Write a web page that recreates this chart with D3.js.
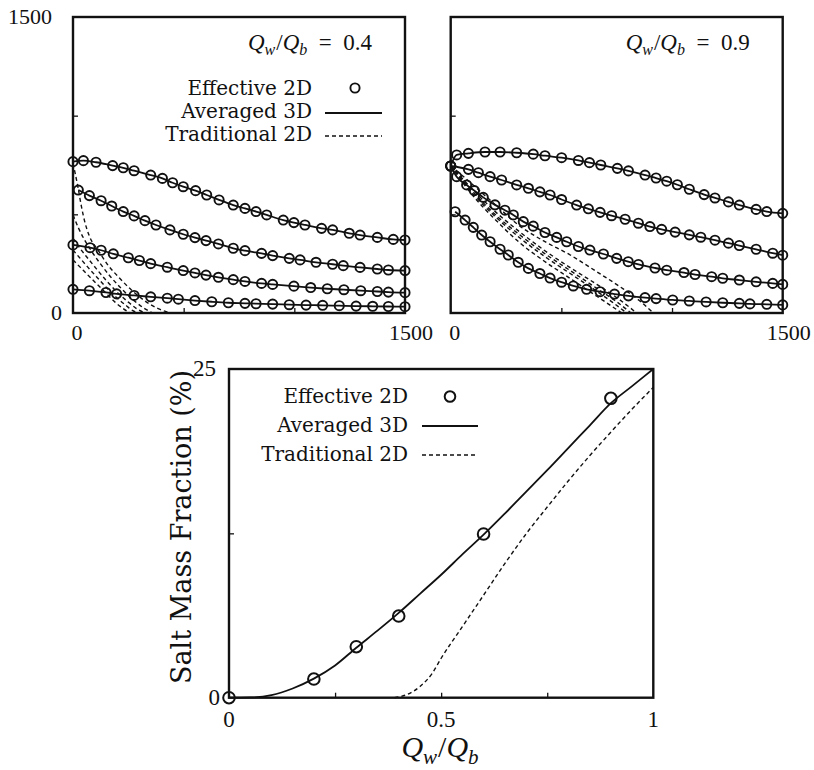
<!DOCTYPE html>
<html>
<head>
<meta charset="utf-8">
<script src="https://cdn.jsdelivr.net/npm/d3@7"></script>
<style>
  body { margin: 0; background: #fff; }
  text { fill: #111; }
</style>
</head>
<body>
<div id="chart"></div>
<script>
const width = 814
const height = 770

// ---- data ----
// left panel, Qw/Qb = 0.4
const eff04_1 = [[0,767],[47,772],[104,764],[179,747],[227,736],[276,721],[351,699],[404,682],[450,660],[498,640],[554,620],[604,598],[660,573],[724,547],[777,530],[827,514],[875,497],[950,471],[998,458],[1048,446],[1123,429],[1173,421],[1248,404],[1297,395],[1375,383],[1447,373],[1500,370]]
const eff04_2 = [[24,623],[74,595],[127,569],[175,542],[227,514],[276,492],[325,468],[375,446],[438,421],[498,399],[551,382],[601,367],[657,350],[724,328],[777,316],[852,302],[902,291],[977,277],[1026,269],[1098,257],[1173,247],[1221,240],[1297,231],[1375,223],[1425,218],[1500,215]]
const eff04_3 = [[0,345],[77,331],[127,318],[182,300],[250,280],[300,266],[351,250],[426,232],[498,215],[551,203],[601,192],[657,181],[724,169],[777,160],[852,150],[902,145],[998,136],[1074,129],[1149,123],[1224,118],[1300,113],[1375,109],[1425,106],[1500,103]]
const eff04_4 = [[0,120],[74,113],[149,104],[197,97],[276,89],[351,82],[426,75],[476,70],[551,63],[627,57],[702,52],[777,49],[827,47],[902,45],[977,42],[1053,40],[1128,39],[1203,37],[1279,35],[1354,34],[1425,33],[1500,32]]
const trad04_1 = [[0,758],[22,640],[38,540],[53,463],[75,387],[113,319],[158,243],[211,176],[264,117],[324,62],[385,22],[440,0]]
const trad04_2 = [[0,497],[25,430],[50,375],[80,320],[120,255],[165,190],[215,128],[270,68],[320,25],[360,0]]
const trad04_3 = [[0,378],[30,330],[65,280],[105,225],[150,165],[200,105],[250,55],[290,20],[325,0]]
const trad04_4 = [[0,319],[30,280],[65,235],[105,185],[150,130],[195,80],[240,38],[270,12],[300,0]]
const trad04_5 = [[0,269],[30,235],[65,195],[105,150],[150,100],[190,55],[230,20],[258,0]]

// right panel, Qw/Qb = 0.9
const eff09_1 = [[0,745],[27,801],[80,809],[155,816],[223,816],[298,812],[373,805],[426,797],[501,787],[577,773],[627,762],[678,750],[753,733],[803,720],[878,699],[928,684],[976,668],[1024,650],[1078,627],[1145,600],[1194,583],[1255,563],[1304,547],[1380,525],[1428,514],[1500,505]]
const eff09_2 = [[0,745],[80,728],[125,711],[178,691],[230,674],[298,649],[351,632],[403,614],[449,598],[501,575],[569,547],[622,528],[675,510],[727,493],[788,475],[848,455],[900,438],[953,424],[1014,410],[1078,396],[1130,384],[1194,369],[1255,354],[1304,342],[1380,323],[1455,303],[1500,293]]
const eff09_3 = [[0,745],[27,691],[72,649],[107,620],[147,586],[200,548],[245,521],[283,497],[328,463],[373,440],[426,408],[479,383],[524,361],[577,337],[629,319],[690,299],[750,277],[802,260],[848,246],[923,228],[976,217],[1054,205],[1104,195],[1179,184],[1229,176],[1304,167],[1380,158],[1455,150],[1500,145]]
const eff09_4 = [[20,513],[65,471],[102,434],[140,395],[178,361],[223,323],[260,294],[305,257],[351,226],[403,200],[449,177],[501,156],[554,137],[614,120],[675,108],[740,96],[803,87],[878,78],[928,73],[1003,66],[1078,61],[1154,56],[1229,52],[1304,49],[1352,46],[1428,44],[1500,41]]
const trad09_1 = [[0,747],[100,650],[200,550],[313,440],[420,365],[540,294],[660,209],[765,133],[850,65],[916,0]]
const trad09_2 = [[0,747],[100,625],[200,515],[313,410],[420,320],[540,230],[660,145],[760,70],[840,0]]
const trad09_3 = [[0,747],[100,615],[200,500],[313,395],[420,305],[540,215],[660,125],[740,65],[815,0]]
const trad09_4 = [[0,747],[100,605],[200,490],[313,380],[420,290],[540,200],[660,110],[730,55],[795,0]]
const trad09_5 = [[0,747],[100,595],[200,475],[313,355],[420,265],[540,175],[660,85],[720,40],[773,0]]

// bottom panel: salt mass fraction (%) vs Qw/Qb
const ratio = [0, 0.2, 0.3, 0.4, 0.6, 0.9]
const effective2D = [0, 1.42, 3.88, 6.21, 12.45, 22.77]
const averaged3D = [[0,0],[0.05,0.02],[0.1,0.2],[0.15,0.7],[0.2,1.45],[0.25,2.45],[0.3,3.8],[0.35,5.1],[0.4,6.45],[0.45,7.9],[0.5,9.35],[0.55,10.9],[0.6,12.4],[0.65,14.0],[0.7,15.65],[0.75,17.3],[0.8,19.0],[0.85,20.7],[0.9,22.4],[0.95,23.7],[1,25]]
const traditional2D = [[0.39,0],[0.42,0.25],[0.45,0.85],[0.48,1.9],[0.5,3.0],[0.55,5.4],[0.6,7.8],[0.65,10.2],[0.7,12.45],[0.75,14.5],[0.8,16.5],[0.85,18.4],[0.9,20.2],[0.95,21.95],[1,23.6]]

const legendLabels = ["Effective 2D", "Averaged 3D", "Traditional 2D"]

const numFont = "'Liberation Serif', 'Times New Roman', serif"
const wordFont = "'DejaVu Serif', serif"
const ink = "#111"

const svg = d3.select("#chart").append("svg").attr("width", width).attr("height", height)
svg.append("rect").attr("width", width).attr("height", height).attr("fill", "#fff")

const line = (x, y) => d3.line().x(d => x(d[0])).y(d => y(d[1])).curve(d3.curveMonotoneX)

function mathLabel(g, x, y, size, suffix, anchor) {
    const t = g.append("text").attr("x", x).attr("y", y)
        .attr("font-family", numFont).attr("font-size", size).attr("text-anchor", anchor || "start")
    const sub = Math.round(size * 0.7)
    const shift = size * 0.22
    t.append("tspan").attr("font-style", "italic").text("Q")
    t.append("tspan").attr("font-style", "italic").attr("font-size", sub).attr("dy", shift).text("w")
    t.append("tspan").attr("dy", -shift).attr("dx", 1).text("/")
    t.append("tspan").attr("font-style", "italic").text("Q")
    t.append("tspan").attr("font-style", "italic").attr("font-size", sub).attr("dy", shift).text("b")
    if (suffix) t.append("tspan").attr("dy", -shift).attr("xml:space", "preserve").text(suffix)
}

function topPanel(left, effs, trads, label, withLegend, withYLabels) {
    const x = d3.scaleLinear().domain([0, 1500]).range([left, left + 332])
    const y = d3.scaleLinear().domain([0, 1500]).range([313, 17])
    const g = svg.append("g")

    g.append("g").attr("transform", `translate(0, ${y(0)})`)
        .call(d3.axisBottom(x).tickValues([500, 1000]).tickSize(-5).tickFormat(""))
        .call(a => a.select(".domain").remove())
        .selectAll("line").attr("stroke", ink).attr("stroke-width", 1.3)
    g.append("g").attr("transform", `translate(${x(0)}, 0)`)
        .call(d3.axisLeft(y).tickValues([500, 1000]).tickSize(-5).tickFormat(""))
        .call(a => a.select(".domain").remove())
        .selectAll("line").attr("stroke", ink).attr("stroke-width", 1.3)

    trads.forEach(s => {
        g.append("path").datum(s).attr("d", line(x, y)).attr("fill", "none")
            .attr("stroke", ink).attr("stroke-width", 1.4).attr("stroke-dasharray", "4,3")
    })
    effs.forEach(s => {
        g.append("path").datum(s).attr("d", line(x, y)).attr("fill", "none")
            .attr("stroke", ink).attr("stroke-width", 1.8)
        g.selectAll(null).data(s).enter().append("circle")
            .attr("cx", d => x(d[0])).attr("cy", d => y(d[1])).attr("r", 4.6)
            .attr("fill", "none").attr("stroke", ink).attr("stroke-width", 1.9)
    })

    g.append("rect").attr("x", x(0)).attr("y", y(1500))
        .attr("width", x(1500) - x(0)).attr("height", y(0) - y(1500))
        .attr("fill", "none").attr("stroke", ink).attr("stroke-width", 2.4)

    // end tick labels
    g.append("text").attr("x", x(0) + 4).attr("y", 340).attr("text-anchor", "middle")
        .attr("font-family", numFont).attr("font-size", 22).text("0")
    g.append("text").attr("x", x(1500) + 6).attr("y", 340).attr("text-anchor", "middle")
        .attr("font-family", numFont).attr("font-size", 22).text("1500")
    if (withYLabels) {
        g.append("text").attr("x", x(0) - 21).attr("y", y(1500) + 7).attr("text-anchor", "end")
            .attr("font-family", numFont).attr("font-size", 22).text("1500")
        g.append("text").attr("x", x(0) - 11).attr("y", y(0) + 7).attr("text-anchor", "end")
            .attr("font-family", numFont).attr("font-size", 22).text("0")
    }

    mathLabel(g, x(1500) - 33, 50, 23, "\u2002=\u2002" + label, "end")

    if (withLegend) {
        const lx = x(0) + 239, ys = [95, 118, 141]
        legendLabels.forEach((t, i) => {
            g.append("text").attr("x", lx).attr("y", ys[i]).attr("text-anchor", "end")
                .attr("font-family", wordFont).attr("font-size", 20).text(t)
        })
        g.append("circle").attr("cx", x(0) + 282).attr("cy", 88).attr("r", 4.6)
            .attr("fill", "none").attr("stroke", ink).attr("stroke-width", 1.9)
        g.append("line").attr("x1", x(0) + 252).attr("x2", x(0) + 309).attr("y1", 113).attr("y2", 113)
            .attr("stroke", ink).attr("stroke-width", 1.8)
        g.append("line").attr("x1", x(0) + 252).attr("x2", x(0) + 309).attr("y1", 136).attr("y2", 136)
            .attr("stroke", ink).attr("stroke-width", 1.4).attr("stroke-dasharray", "4,3")
    }
}

topPanel(73, [eff04_1, eff04_2, eff04_3, eff04_4],
    [trad04_1, trad04_2, trad04_3, trad04_4, trad04_5], "0.4", true, true)
topPanel(450.7, [eff09_1, eff09_2, eff09_3, eff09_4],
    [trad09_1, trad09_2, trad09_3, trad09_4, trad09_5], "0.9", false, false)

// ---- bottom panel ----
const xB = d3.scaleLinear().domain([0, 1]).range([229, 653.3])
const yB = d3.scaleLinear().domain([0, 25]).range([697.7, 369])
const gB = svg.append("g")

gB.append("g").attr("transform", `translate(0, ${yB(0)})`)
    .call(d3.axisBottom(xB).tickValues([0.25, 0.5, 0.75]).tickSize(-5).tickFormat(""))
    .call(a => a.select(".domain").remove())
    .selectAll("line").attr("stroke", ink).attr("stroke-width", 1.3)
gB.append("g").attr("transform", `translate(${xB(0)}, 0)`)
    .call(d3.axisLeft(yB).tickValues([12.5]).tickSize(-5).tickFormat(""))
    .call(a => a.select(".domain").remove())
    .selectAll("line").attr("stroke", ink).attr("stroke-width", 1.3)

gB.append("path").datum(traditional2D).attr("d", line(xB, yB)).attr("fill", "none")
    .attr("stroke", ink).attr("stroke-width", 1.4).attr("stroke-dasharray", "4,3")
gB.append("path").datum(averaged3D).attr("d", line(xB, yB)).attr("fill", "none")
    .attr("stroke", ink).attr("stroke-width", 1.8)
gB.selectAll(null).data(ratio).enter().append("circle")
    .attr("cx", d => xB(d)).attr("cy", (d, i) => yB(effective2D[i])).attr("r", 5.8)
    .attr("fill", "none").attr("stroke", ink).attr("stroke-width", 2)

gB.append("rect").attr("x", xB(0)).attr("y", yB(25))
    .attr("width", xB(1) - xB(0)).attr("height", yB(0) - yB(25))
    .attr("fill", "none").attr("stroke", ink).attr("stroke-width", 2.4)

const xTickLabels = [[0, "0"], [0.5, "0.5"], [1, "1"]]
xTickLabels.forEach(([v, t]) => {
    gB.append("text").attr("x", xB(v)).attr("y", 727).attr("text-anchor", "middle")
        .attr("font-family", numFont).attr("font-size", 23).text(t)
})
gB.append("text").attr("x", 216).attr("y", 376).attr("text-anchor", "end")
    .attr("font-family", numFont).attr("font-size", 23).text("25")
gB.append("text").attr("x", 220).attr("y", 705).attr("text-anchor", "end")
    .attr("font-family", numFont).attr("font-size", 23).text("0")

gB.append("text").attr("transform", "translate(191, 527) rotate(-90)").attr("text-anchor", "middle")
    .attr("font-family", wordFont).attr("font-size", 27).text("Salt Mass Fraction (%)")
mathLabel(gB, 440, 757, 30, null, "middle")

const lys = [403, 432, 461]
legendLabels.forEach((t, i) => {
    gB.append("text").attr("x", 408).attr("y", lys[i]).attr("text-anchor", "end")
        .attr("font-family", wordFont).attr("font-size", 20).text(t)
})
gB.append("circle").attr("cx", 450).attr("cy", 396.5).attr("r", 5.3)
    .attr("fill", "none").attr("stroke", ink).attr("stroke-width", 2)
gB.append("line").attr("x1", 422).attr("x2", 478).attr("y1", 426).attr("y2", 426)
    .attr("stroke", ink).attr("stroke-width", 1.8)
gB.append("line").attr("x1", 422).attr("x2", 478).attr("y1", 455).attr("y2", 455)
    .attr("stroke", ink).attr("stroke-width", 1.4).attr("stroke-dasharray", "4,3")
</script>
</body>
</html>
